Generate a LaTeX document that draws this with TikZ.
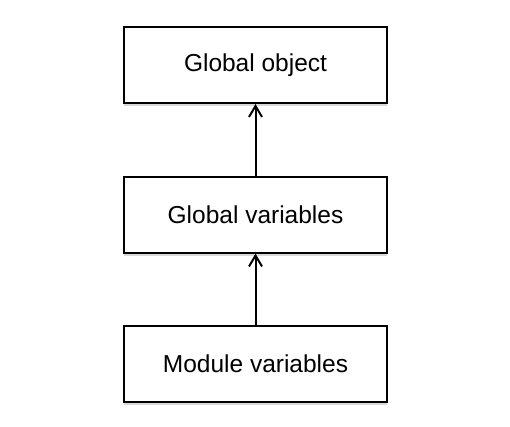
\documentclass[tikz,border=0pt]{standalone}
\usepackage{fontspec}
\setmainfont{Liberation Sans}
\usepackage{tikz}
\usetikzlibrary{arrows.meta, shadows}
\tikzset{every node/.append style={font=\fontsize{24.5}{28}\selectfont},
  layerbox/.style={draw, line width=2pt, fill=white, minimum width=263pt, minimum height=76pt,
    drop shadow={opacity=0.3, shadow xshift=0pt, shadow yshift=-3pt}}}

\begin{document}
\begin{tikzpicture}[x=1pt, y=1pt, >={Straight Barb[length=11pt, width=13pt, line width=2pt]}]
    \useasboundingbox (0,0) rectangle (510,-426);
    \node[layerbox] (globobj) at (255.5,-65) {Global object};
    \node[layerbox] (globvars) at (255.5,-214.5) {Global variables};
    \node[layerbox] (modvars) at (255.5,-363.5) {Module variables};
    \draw[->, line width=2pt] (globvars) -- (globobj);
    \draw[->, line width=2pt] (modvars) -- (globvars);
\end{tikzpicture}
\end{document}
